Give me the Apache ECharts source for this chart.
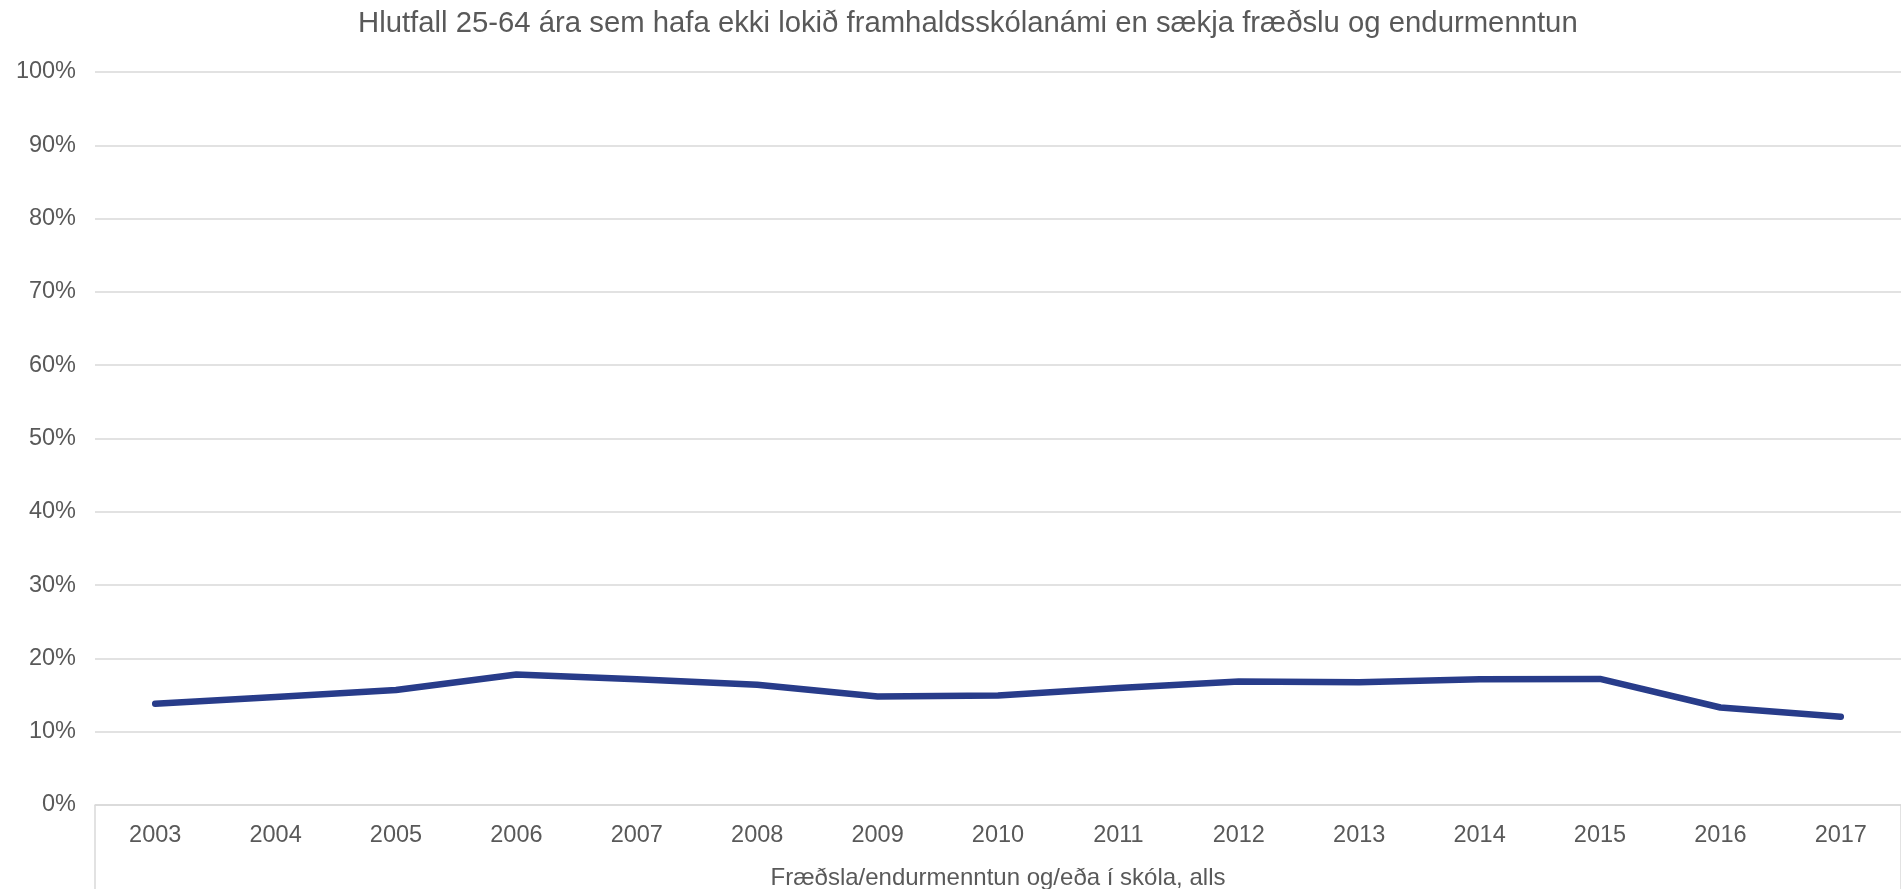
<!DOCTYPE html>
<html lang="is">
  <head>
    <meta charset="UTF-8" />
    <title>Hlutfall 25-64 ára</title>
    <style>
      body {
        margin: 0;
      }
      #chart {
        width: 1901px;
        height: 889px;
      }
    </style>
    <script src="https://cdn.jsdelivr.net/npm/echarts@6/dist/echarts.min.js"></script>
  </head>
  <body>
    <div id="chart"></div>
    <script>
      const years = ["2003", "2004", "2005", "2006", "2007", "2008", "2009", "2010",
        "2011", "2012", "2013", "2014", "2015", "2016", "2017"];
      // hlutfall í %
      const values = [13.8, 14.75, 15.7, 17.8, 17.15, 16.4, 14.8, 14.95,
        15.95, 16.85, 16.75, 17.15, 17.2, 13.3, 12.05];

      const textColor = "#595959";
      const gridColor = "#d9d9d9";

      var myChart = echarts.init(document.getElementById("chart"));
      myChart.setOption({
        animation: false,
        title: {
          text: "Hlutfall 25-64 ára sem hafa ekki lokið framhaldsskólanámi en sækja fræðslu og endurmenntun",
          left: 353,
          top: 4,
          textStyle: {
            color: textColor,
            fontFamily: "Liberation Sans",
            fontWeight: "normal",
            fontSize: 29.3,
          },
        },
        grid: {
          left: 95,
          right: 0,
          top: 72,
          bottom: 84,
          outerBoundsMode: "none",
          containLabel: false,
        },
        xAxis: {
          type: "category",
          data: years,
          boundaryGap: true,
          name: "Fræðsla/endurmenntun og/eða í skóla, alls",
          nameLocation: "middle",
          nameGap: 61,
          nameTextStyle: {
            color: textColor,
            fontFamily: "Liberation Sans",
            fontSize: 24,
          },
          axisLine: { lineStyle: { color: gridColor, width: 1.5 } },
          axisTick: {
            show: true,
            length: 84,
            interval: (index) => index === 0,
            lineStyle: { color: gridColor, width: 1.5 },
          },
          axisLabel: {
            color: textColor,
            fontFamily: "Liberation Sans",
            fontSize: 23.5,
            margin: 19,
          },
        },
        yAxis: {
          type: "value",
          min: 0,
          max: 100,
          interval: 10,
          axisLine: { show: false },
          axisTick: { show: false },
          axisLabel: {
            formatter: "{value}%",
            color: textColor,
            fontFamily: "Liberation Sans",
            fontSize: 23.5,
            margin: 19,
          },
          splitLine: { lineStyle: { color: gridColor, width: 1.5 } },
        },
        series: [
          {
            name: "Fræðsla/endurmenntun og/eða í skóla, alls",
            type: "line",
            data: values,
            symbol: "none",
            lineStyle: { color: "#283c8a", width: 6.5, cap: "round", join: "round" },
          },
        ],
      });
    </script>
  </body>
</html>
